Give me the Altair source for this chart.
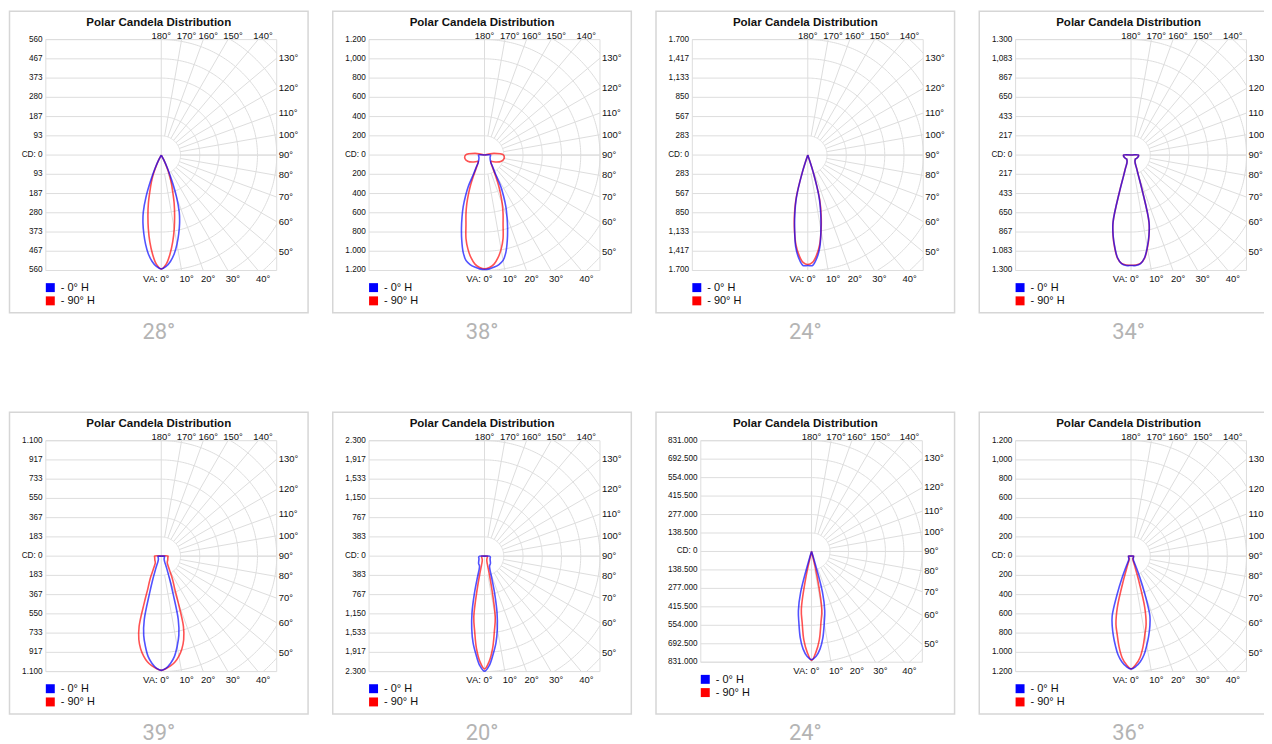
import math
import altair as alt
import pandas as pd

# ---------------- data ----------------
ANGLES = [0, 2.5, 5, 7.5, 10, 12.5, 15, 17.5, 20, 22.5, 25, 27.5, 30,
          35, 40, 45, 50, 60, 70, 80, 90, 100, 180]
SERIES = ["- 0° H", "- 90° H"]
TITLE = "Polar Candela Distribution"

BEAMS = ["28°", "38°", "24°", "34°", "39°", "20°", "24°", "36°"]
CD_MAX = [560, 1200, 1700, 1300, 1100, 2300, 831000, 1200]

P1_TICKS = ["560", "467", "373", "280", "187", "93", "CD: 0", "93", "187", "280", "373", "467", "560"]
P2_TICKS = ["1.200", "1,000", "800", "600", "400", "200", "CD: 0", "200", "400", "600", "800", "1.000", "1.200"]
P3_TICKS = ["1.700", "1,417", "1,133", "850", "567", "283", "CD: 0", "283", "567", "850", "1,133", "1,417", "1.700"]
P4_TICKS = ["1.300", "1,083", "867", "650", "433", "217", "CD: 0", "217", "433", "650", "867", "1.083", "1.300"]
P5_TICKS = ["1.100", "917", "733", "550", "367", "183", "CD: 0", "183", "367", "550", "733", "917", "1.100"]
P6_TICKS = ["2.300", "1,917", "1,533", "1,150", "767", "383", "CD: 0", "383", "767", "1,150", "1,533", "1,917", "2.300"]
P7_TICKS = ["831.000", "692.500", "554.000", "415.500", "277.000", "138.500", "CD: 0",
            "138.500", "277.000", "415.500", "554.000", "692.500", "831.000"]
P8_TICKS = ["1.200", "1,000", "800", "600", "400", "200", "CD: 0", "200", "400", "600", "800", "1.000", "1.200"]

# candela at each vertical angle of ANGLES, for the 0° H and 90° H planes
P1_H0 = [553, 541, 517, 483, 439, 391, 343, 290, 217, 135, 72, 29, 0, 0, 0, 0, 0, 0, 0, 0, 0, 0, 0]
P1_H90 = [553, 531, 483, 425, 362, 299, 241, 183, 140, 101, 58, 24, 0, 0, 0, 0, 0, 0, 0, 0, 0, 0, 0]
P2_H0 = [1190, 1184, 1169, 1148, 1112, 1030, 915, 797, 683, 579, 466, 362, 228, 145, 103, 88, 78, 67, 62, 62, 62, 0, 0]
P2_H90 = [1182, 1169, 1138, 1076, 993, 890, 745, 641, 538, 434, 341, 259, 197, 134, 103, 93, 103, 145, 186, 207, 197, 100, 0]
P3_H0 = [1627, 1627, 1524, 1363, 1114, 879, 645, 264, 0, 0, 0, 0, 0, 0, 0, 0, 0, 0, 0, 0, 0, 0, 0]
P3_H90 = [1612, 1583, 1480, 1334, 1128, 909, 674, 264, 0, 0, 0, 0, 0, 0, 0, 0, 0, 0, 0, 0, 0, 0, 0]
P4_H0 = [1244, 1244, 1227, 1166, 1053, 930, 784, 426, 235, 168, 123, 101, 90, 78, 73, 67, 67, 73, 78, 84, 84, 0, 0]
P4_H90 = [1240, 1240, 1225, 1170, 1060, 935, 780, 430, 240, 170, 123, 101, 90, 78, 73, 67, 67, 73, 78, 84, 84, 0, 0]
P5_H0 = [1088, 1067, 1024, 963, 872, 773, 626, 370, 237, 156, 114, 85, 66, 52, 43, 38, 36, 33, 32, 31, 31, 0, 0]
P5_H90 = [1088, 1072, 1048, 1015, 967, 906, 825, 702, 474, 332, 266, 209, 161, 114, 90, 81, 76, 71, 66, 64, 64, 0, 0]
P6_H0 = [2294, 2181, 1963, 1745, 1467, 1150, 793, 516, 357, 278, 238, 218, 208, 198, 184, 165, 149, 129, 119, 119, 99, 0, 0]
P6_H90 = [2247, 2102, 1844, 1507, 1229, 674, 357, 218, 159, 129, 109, 99, 89, 79, 75, 69, 65, 63, 61, 59, 59, 0, 0]
P7_H0 = [810800, 786100, 733700, 651300, 546500, 456700, 314400, 37400, 0, 0, 0, 0, 0, 0, 0, 0, 0, 0, 0, 0, 0, 0, 0]
P7_H90 = [818300, 756100, 666300, 539000, 441700, 187200, 0, 0, 0, 0, 0, 0, 0, 0, 0, 0, 0, 0, 0, 0, 0, 0, 0]
P8_H0 = [1172, 1148, 1102, 1034, 941, 848, 755, 652, 424, 238, 124, 72, 52, 41, 36, 31, 31, 29, 27, 26, 26, 0, 0]
P8_H90 = [1172, 1128, 1060, 952, 828, 724, 548, 259, 124, 72, 52, 41, 36, 31, 31, 29, 28, 27, 26, 26, 26, 0, 0]

TICKS = [P1_TICKS, P2_TICKS, P3_TICKS, P4_TICKS, P5_TICKS, P6_TICKS, P7_TICKS, P8_TICKS]
H0 = [P1_H0, P2_H0, P3_H0, P4_H0, P5_H0, P6_H0, P7_H0, P8_H0]
H90 = [P1_H90, P2_H90, P3_H90, P4_H90, P5_H90, P6_H90, P7_H90, P8_H90]

TOP_ANGLES = [180, 170, 160, 150, 140]
RIGHT_ANGLES = [130, 120, 110, 100, 90, 80, 70, 60, 50]
BOTTOM_ANGLES = [0, 10, 20, 30, 40]
SPOKES = [10, 20, 30, 40, 50, 60, 70, 80, 90, 100, 110, 120, 130, 140, 150, 160, 170]

# ---------------- layout / style ----------------
BOX_W, BOX_H = 300, 303
GEOM_STD = (152.5, 144.5, 116.0)          # centre x, centre y, radius (px, box-relative)
GEOM = [GEOM_STD] * 6 + [(156.3, 139.8, 111.3)] + [GEOM_STD]
FONT = "Liberation Sans"
GRID = "#dddddd"
TXT = "#111111"
COLORS = ["#0000ff", "#ff0000"]

for arr in H0 + H90:
    assert len(arr) == len(ANGLES)


def make_panel(i):
    M = CD_MAX[i]
    cx, cy, R = GEOM[i]
    u = M / R
    step = M / 6.0
    xs = alt.Scale(domain=[-cx * u, (BOX_W - cx) * u], nice=False, zero=False)
    ys = alt.Scale(domain=[-(BOX_H - cy) * u, cy * u], nice=False, zero=False)

    def X(f):
        return alt.X(f, type="quantitative", scale=xs, axis=None)

    def Y(f):
        return alt.Y(f, type="quantitative", scale=ys, axis=None)

    frame = alt.Chart(pd.DataFrame({"x": [-M], "x2": [M], "y": [-M], "y2": [M]})).mark_rect(
        fillOpacity=0, stroke=GRID, strokeWidth=1
    ).encode(x=X("x"), x2="x2:Q", y=Y("y"), y2="y2:Q")

    ks = list(range(-6, 7))
    hdf = pd.DataFrame({"y": [k * step for k in ks], "x": [-M] * len(ks),
                        "x2": [M if k == 0 else 0 for k in ks]})
    hgrid = alt.Chart(hdf).mark_rule(color=GRID, strokeWidth=1).encode(
        x=X("x"), x2="x2:Q", y=Y("y"))

    vline = alt.Chart(pd.DataFrame({"x": [0], "y": [-M], "y2": [M]})).mark_rule(
        color=GRID, strokeWidth=1).encode(x=X("x"), y=Y("y"), y2="y2:Q")

    rows = []
    for k in range(1, 9):
        r = k * step
        ratio = min(1.0, M / r)
        a = math.degrees(math.acos(ratio))
        b = math.degrees(math.asin(ratio))
        ranges = [(a, 180 - a)] if b >= 89.999 else [(a, b), (180 - b, 180 - a)]
        for si, (t0, t1) in enumerate(ranges):
            n = max(2, int(t1 - t0) + 1)
            for j in range(n + 1):
                t = math.radians(t0 + (t1 - t0) * j / n)
                rows.append({"seg": f"{k}-{si}", "o": j,
                             "x": r * math.sin(t), "y": -r * math.cos(t)})
    arcs = alt.Chart(pd.DataFrame(rows)).mark_line(color=GRID, strokeWidth=1).encode(
        x=X("x"), y=Y("y"), detail="seg:N", order="o:Q")

    srows = []
    for th in SPOKES:
        t = math.radians(th)
        s, c = math.sin(t), math.cos(t)
        end = min(M / s, M / abs(c) if abs(c) > 1e-9 else 1e18)
        srows.append({"x": step * s, "y": -step * c, "x2": end * s, "y2": -end * c})
    spokes = alt.Chart(pd.DataFrame(srows)).mark_rule(color=GRID, strokeWidth=1).encode(
        x=X("x"), y=Y("y"), x2="x2:Q", y2="y2:Q")

    def curve_df(vals, name):
        pts = []
        o = 0
        for j in range(len(ANGLES) - 1, -1, -1):
            t = math.radians(ANGLES[j])
            pts.append({"s": name, "o": o, "x": -vals[j] * math.sin(t), "y": -vals[j] * math.cos(t)})
            o += 1
        for j in range(1, len(ANGLES)):
            t = math.radians(ANGLES[j])
            pts.append({"s": name, "o": o, "x": vals[j] * math.sin(t), "y": -vals[j] * math.cos(t)})
            o += 1
        return pd.DataFrame(pts)

    cscale = alt.Scale(domain=SERIES, range=COLORS)

    def curve(vals, name):
        return alt.Chart(curve_df(vals, name)).mark_line(
            strokeWidth=1.6, opacity=0.68, interpolate="catmull-rom"
        ).encode(x=X("x"), y=Y("y"), order="o:Q",
                 color=alt.Color("s:N", scale=cscale, legend=None))

    red = curve(H90[i], SERIES[1])
    blue = curve(H0[i], SERIES[0])

    ldf = pd.DataFrame({"y": [k * step for k in range(6, -7, -1)], "t": TICKS[i], "x": [-M] * 13})
    left_lab = alt.Chart(ldf).mark_text(align="right", baseline="middle", dx=-3.3, font=FONT,
                                        fontSize=8.2, color=TXT).encode(x=X("x"), y=Y("y"), text="t:N")

    tdf = pd.DataFrame({"a": TOP_ANGLES,
                        "x": [M * math.tan(math.radians(180 - a)) for a in TOP_ANGLES],
                        "y": [M] * len(TOP_ANGLES),
                        "t": [f"{a}°" for a in TOP_ANGLES]})
    top0 = alt.Chart(tdf[tdf.a == 180]).mark_text(align="center", baseline="alphabetic", dy=-1,
                                                   font=FONT, fontSize=9.5, color=TXT).encode(
        x=X("x"), y=Y("y"), text="t:N")
    top_lab = alt.Chart(tdf[tdf.a != 180]).mark_text(align="center", baseline="alphabetic", dy=-1, dx=5,
                                                      font=FONT, fontSize=9.5, color=TXT).encode(
        x=X("x"), y=Y("y"), text="t:N")

    rdf = pd.DataFrame({"x": [M] * len(RIGHT_ANGLES),
                        "y": [-M * math.cos(math.radians(a)) / math.sin(math.radians(a)) for a in RIGHT_ANGLES],
                        "t": [f"{a}°" for a in RIGHT_ANGLES]})
    right_lab = alt.Chart(rdf).mark_text(align="left", baseline="middle", dx=2, font=FONT,
                                         fontSize=9.5, color=TXT).encode(x=X("x"), y=Y("y"), text="t:N")

    bdf = pd.DataFrame({"a": BOTTOM_ANGLES,
                        "x": [M * math.tan(math.radians(a)) for a in BOTTOM_ANGLES],
                        "y": [-M] * len(BOTTOM_ANGLES),
                        "t": [("VA: " if a == 0 else "") + f"{a}°" for a in BOTTOM_ANGLES]})
    bot0 = alt.Chart(bdf[bdf.a == 0]).mark_text(align="right", baseline="top", dy=3.5, dx=8,
                                                 font=FONT, fontSize=9.5, color=TXT).encode(
        x=X("x"), y=Y("y"), text="t:N")
    bot_lab = alt.Chart(bdf[bdf.a != 0]).mark_text(align="center", baseline="top", dy=3.5, dx=5,
                                                    font=FONT, fontSize=9.5, color=TXT).encode(
        x=X("x"), y=Y("y"), text="t:N")

    title = alt.Chart(pd.DataFrame({"t": [TITLE]})).mark_text(
        font=FONT, fontSize=11.6, fontWeight="bold", color="#111111", baseline="middle", align="center"
    ).encode(x=alt.value(BOX_W / 2), y=alt.value(12), text="t:N")

    # legend: coloured squares + labels, one row per series
    leg = []
    lx = cx - R
    ly = cy + R + 17.2
    for idx, s in enumerate(SERIES):
        sdf = pd.DataFrame({"s": [s]})
        leg.append(alt.Chart(sdf).mark_square(size=81, opacity=1).encode(
            x=alt.value(lx + 4.5), y=alt.value(ly + idx * 13.3),
            color=alt.Color("s:N", scale=cscale, legend=None)))
        leg.append(alt.Chart(sdf).mark_text(align="left", baseline="middle", font=FONT, fontSize=11,
                                            color=TXT).encode(
            x=alt.value(lx + 15), y=alt.value(ly + idx * 13.3 + 0.5), text="s:N"))

    return alt.layer(frame, hgrid, vline, arcs, spokes, red, blue, left_lab, top0, top_lab,
                     right_lab, bot0, bot_lab, title, *leg).properties(
        width=BOX_W, height=BOX_H,
        title=alt.TitleParams(BEAMS[i], orient="bottom", anchor="middle", offset=9, fontSize=22,
                              font="Roboto", fontWeight="normal", color="#b4b4b4"))


panels = [make_panel(i) for i in range(8)]
chart = alt.concat(*panels, columns=4, spacing=alt.RowColnumber(row=100, column=24.8),
                   bounds="flush").properties(
    autosize=alt.AutoSizeParams(type="none"),
    padding={"left": 1.5, "top": 1.5, "right": 1260.5, "bottom": 734.5},
).configure_view(stroke="#d6d6d6", strokeWidth=1.5)

chart.save("out.html", embed_options={"renderer": "svg", "actions": False})
